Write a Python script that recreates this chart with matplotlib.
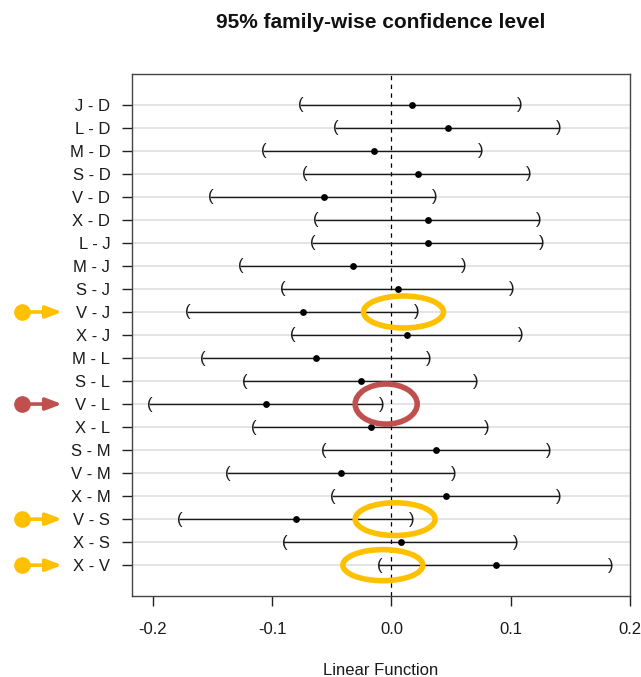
import matplotlib
matplotlib.use("Agg")
import matplotlib.pyplot as plt
import matplotlib.transforms as mtransforms
from matplotlib.patches import Ellipse
import numpy as np

plt.rcParams['font.family'] = ['Liberation Sans', 'DejaVu Sans']

# Tukey HSD pairwise comparisons (difference, lower, upper)
comparisons = ["J - D", "L - D", "M - D", "S - D", "V - D", "X - D", "L - J",
               "M - J", "S - J", "V - J", "X - J", "M - L", "S - L", "V - L",
               "X - L", "S - M", "V - M", "X - M", "V - S", "X - S", "X - V"]
diff = [0.0174, 0.0473, -0.0145, 0.0226, -0.0567, 0.0310, 0.0310,
        -0.0321, 0.0054, -0.0743, 0.0134, -0.0631, -0.0257, -0.1053,
        -0.0173, 0.0372, -0.0422, 0.0456, -0.0799, 0.0081, 0.0875]
lower = [-0.0757, -0.0466, -0.1070, -0.0723, -0.1511, -0.0631, -0.0659,
         -0.1262, -0.0914, -0.1707, -0.0830, -0.1581, -0.1232, -0.2023,
         -0.1151, -0.0570, -0.1372, -0.0494, -0.1771, -0.0897, -0.0101]
upper = [0.1079, 0.1406, 0.0752, 0.1154, 0.0360, 0.1238, 0.1261,
         0.0604, 0.1009, 0.0213, 0.1087, 0.0316, 0.0710, -0.0081,
         0.0800, 0.1316, 0.0520, 0.1400, 0.0171, 0.1045, 0.1842]
x_ticks = [-0.2, -0.1, 0.0, 0.1, 0.2]

# Highlighted comparisons: label, ellipse centre, ellipse width, height (rows), colour
highlight_labels = ["V - J", "V - L", "V - S", "X - V"]
highlight_center = [0.0101, -0.0044, 0.0031, -0.0072]
highlight_width = [0.067, 0.052, 0.067, 0.067]
highlight_height = [1.39, 1.74, 1.42, 1.35]
highlight_colors = ["#FFC000", "#C0504D", "#FFC000", "#FFC000"]

W, H = 641, 677
fig = plt.figure(figsize=(W / 100, H / 100), dpi=100)
ax = fig.add_axes([131.7 / W, 1 - 596 / H, (630 - 131.7) / W, (596 - 74) / H])

n = len(comparisons)
yvals = np.arange(n, 0, -1)

lo, hi = min(lower), max(upper)
pad = 0.04 * (hi - lo)
ax.set_xlim(lo - pad, hi + pad)
ypad = 0.04 * n
ax.set_ylim(0.5 - ypad, n + 0.5 + ypad)

# horizontal guide lines
for y in yvals:
    ax.axhline(y, color="#DCDCDC", lw=1.1, zorder=0)

ax.axvline(0, color="black", lw=0.9, ls=(0, (3.5, 3.5)), zorder=1)

for y, d, l, u in zip(yvals, diff, lower, upper):
    ax.plot([l, u], [y, y], color="#1a1a1a", lw=1.0, zorder=2)
    ax.plot([d], [y], marker="o", ms=3.9, color="black", zorder=3)
    ax.text(l, y, "(", ha="center", va="center", fontsize=12, color="#1a1a1a", zorder=3)
    ax.text(u, y, ")", ha="center", va="center", fontsize=12, color="#1a1a1a", zorder=3)

ax.set_yticks(yvals)
ax.set_yticklabels(comparisons, fontsize=12, color="#1a1a1a")
ax.set_xticks(x_ticks)
ax.set_xticklabels([f"{t:.1f}" for t in x_ticks], fontsize=12, color="#1a1a1a")
ax.tick_params(axis="y", length=7, width=1, pad=8.4, color="#222222")
ax.tick_params(axis="x", length=7, width=1, pad=12, color="#222222")
for s in ax.spines.values():
    s.set_color("#444444")
    s.set_linewidth(1.0)

fig.text((131.7 + 630) / 2 / W, 1 - 28 / H, "95% family-wise confidence level",
         ha="center", va="baseline", fontsize=15, fontweight="bold", color="#111111")
fig.text((131.7 + 630) / 2 / W, 1 - 675 / H, "Linear Function",
         ha="center", va="baseline", fontsize=12, color="#1a1a1a")

# highlight ellipses and pointer arrows
blend = mtransforms.blended_transform_factory(fig.transFigure, ax.transData)
for lab, cx, w, h, c in zip(highlight_labels, highlight_center, highlight_width,
                            highlight_height, highlight_colors):
    y = yvals[comparisons.index(lab)]
    ax.add_patch(Ellipse((cx, y), w, h, fill=False, edgecolor=c, lw=4.0, zorder=4))
    ax.annotate("", xy=(62 / W, y), xytext=(21.7 / W, y),
                xycoords=blend, textcoords=blend, annotation_clip=False,
                arrowprops=dict(arrowstyle="-|>,head_length=9.5,head_width=3.6",
                                mutation_scale=1, lw=2.6, color=c,
                                shrinkA=0, shrinkB=0))
    ax.plot([21.7 / W], [y], marker="o", ms=11, color=c, transform=blend,
            clip_on=False, zorder=5)

fig.savefig("out.png", dpi=100)
